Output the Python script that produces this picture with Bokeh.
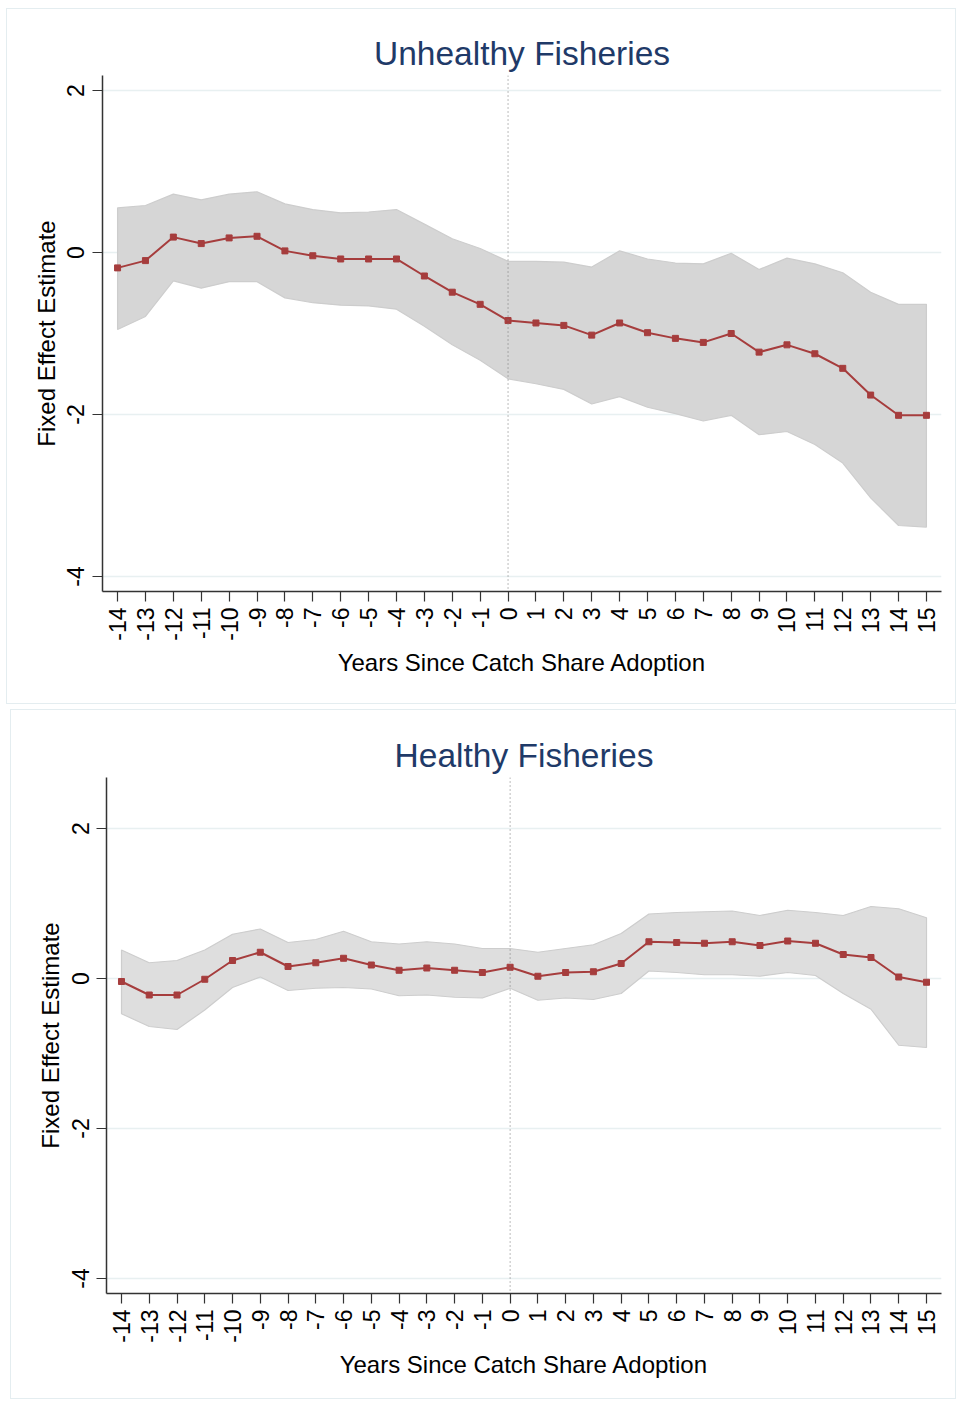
import math
from bokeh.plotting import figure
from bokeh.layouts import column
from bokeh.models import Span, FixedTicker, Range1d
from bokeh.embed import file_html
from bokeh.resources import INLINE

years = list(range(-14, 16))
x_tick_labels = [str(y) for y in years]
y_ticks = [-4, -2, 0, 2]
y_tick_labels = ["-4", "-2", "0", "2"]

# Unhealthy fisheries
unh_est = [-0.19, -0.10, 0.19, 0.11, 0.18, 0.20, 0.02, -0.04, -0.08, -0.08, -0.08,
           -0.29, -0.49, -0.64, -0.84, -0.87, -0.90, -1.02, -0.87, -0.99, -1.06,
           -1.11, -1.00, -1.23, -1.14, -1.25, -1.43, -1.76, -2.01, -2.01]
unh_hi = [0.55, 0.58, 0.72, 0.65, 0.72, 0.75, 0.60, 0.53, 0.49, 0.50, 0.53,
          0.35, 0.17, 0.05, -0.11, -0.11, -0.12, -0.18, 0.02, -0.08, -0.13,
          -0.14, -0.01, -0.21, -0.07, -0.14, -0.25, -0.49, -0.64, -0.64]
unh_lo = [-0.95, -0.79, -0.35, -0.44, -0.36, -0.36, -0.56, -0.62, -0.65, -0.66, -0.70,
          -0.91, -1.14, -1.33, -1.56, -1.62, -1.69, -1.87, -1.78, -1.91, -1.99,
          -2.08, -2.01, -2.25, -2.21, -2.37, -2.60, -3.03, -3.37, -3.39]

# Healthy fisheries
hea_est = [-0.04, -0.22, -0.22, -0.01, 0.24, 0.35, 0.16, 0.21, 0.27, 0.18, 0.11,
           0.14, 0.11, 0.08, 0.15, 0.03, 0.08, 0.09, 0.20, 0.49, 0.48,
           0.47, 0.49, 0.44, 0.50, 0.47, 0.32, 0.28, 0.02, -0.05]
hea_hi = [0.38, 0.21, 0.24, 0.38, 0.59, 0.66, 0.48, 0.52, 0.63, 0.49, 0.46,
          0.49, 0.46, 0.40, 0.40, 0.35, 0.40, 0.45, 0.60, 0.86, 0.88,
          0.89, 0.90, 0.84, 0.91, 0.88, 0.84, 0.96, 0.93, 0.81]
hea_lo = [-0.47, -0.64, -0.68, -0.42, -0.12, 0.02, -0.16, -0.13, -0.12, -0.14, -0.23,
          -0.22, -0.25, -0.26, -0.13, -0.29, -0.26, -0.28, -0.20, 0.10, 0.08,
          0.05, 0.05, 0.03, 0.08, 0.04, -0.20, -0.41, -0.89, -0.92]

FONT = "Liberation Sans"
TITLE_COLOR = "#1f3a68"
LINE_COLOR = "#a63d3d"


def make_panel(title, est, lo, hi, width, height, borders, y_range, band_fill, margin):
    left, top, right, bottom = borders
    p = figure(width=width, height=height, output_backend="svg", toolbar_location=None,
               x_range=Range1d(-14.54, 15.54), y_range=Range1d(*y_range),
               min_border_left=left, min_border_top=top, min_border_right=right,
               min_border_bottom=bottom, title=title,
               styles={"border": "1px solid #e4edf0", "box-sizing": "border-box"})
    p.margin = margin
    p.outline_line_color = None
    p.title.align = "center"
    p.title.text_font = FONT
    p.title.text_font_size = "33.5px"
    p.title.text_font_style = "normal"
    p.title.text_color = TITLE_COLOR
    p.title.standoff = 8

    p.xgrid.grid_line_color = None
    p.ygrid.grid_line_color = "#e8f0f1"
    p.ygrid.grid_line_width = 1.5

    p.xaxis.ticker = FixedTicker(ticks=years)
    p.xaxis.major_label_overrides = {y: s for y, s in zip(years, x_tick_labels)}
    p.yaxis.ticker = FixedTicker(ticks=y_ticks)
    p.yaxis.major_label_overrides = {y: s for y, s in zip(y_ticks, y_tick_labels)}
    for ax in (p.xaxis, p.yaxis):
        ax.axis_line_color = "#333333"
        ax.axis_line_width = 1.5
        ax.major_tick_line_color = "#333333"
        ax.major_tick_line_width = 1.2
        ax.major_tick_out = 10
        ax.major_tick_in = 0
        ax.minor_tick_line_color = None
        ax.major_label_text_font = FONT
        ax.major_label_text_font_size = "23px"
        ax.major_label_text_color = "#000000"
        ax.axis_label_text_font = FONT
        ax.axis_label_text_font_size = "24px"
        ax.axis_label_text_font_style = "normal"
        ax.axis_label_text_color = "#000000"
    p.xaxis.major_label_orientation = math.pi / 2
    p.yaxis.major_label_orientation = "parallel"
    p.xaxis.axis_label = "Years Since Catch Share Adoption"
    p.yaxis.axis_label = "Fixed Effect Estimate"
    p.xaxis.major_label_standoff = 6
    p.xaxis.axis_label_standoff = 5
    p.yaxis.major_label_standoff = 8
    p.yaxis.axis_label_standoff = 5

    xs = years + years[::-1]
    ys = hi + lo[::-1]
    p.patch(xs, ys, fill_color=band_fill, line_color="#cdcdcd", line_width=1.2)

    p.add_layout(Span(location=0, dimension="height", line_color="#777777",
                      line_width=1, line_dash="1 3"))

    p.line(years, est, line_color=LINE_COLOR, line_width=2)
    p.scatter(years, est, marker="square", size=6, fill_color=LINE_COLOR,
              line_color=LINE_COLOR)
    return p


p1 = make_panel("Unhealthy Fisheries", unh_est, unh_lo, unh_hi, 950, 696,
                (94, 66, 16, 114), (-4.185, 2.185), "#d6d6d6", (8, 0, 0, 6))
p2 = make_panel("Healthy Fisheries", hea_est, hea_lo, hea_hi, 946, 690,
                (95, 67, 10, 107), (-4.2, 2.68), "#dedede", (5, 0, 0, 10))

layout = column(p1, p2)
open("out.html", "w").write(file_html(layout, INLINE))
